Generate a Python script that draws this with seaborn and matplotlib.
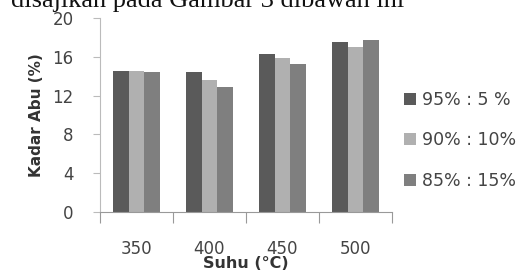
import pandas as pd
import seaborn as sns
import matplotlib.pyplot as plt

suhu = ['350', '400', '450', '500']
ratios = ['95% : 5 %', '90% : 10%', '85% : 15%']
kadar_95 = [14.5, 14.4, 16.3, 17.5]
kadar_90 = [14.5, 13.6, 15.9, 17.0]
kadar_85 = [14.4, 12.9, 15.3, 17.7]
colors = ['#5a5a5a', '#b0b0b0', '#7f7f7f']

df = pd.DataFrame({
    'suhu': suhu * 3,
    'rasio': [r for r in ratios for _ in suhu],
    'kadar': kadar_95 + kadar_90 + kadar_85,
})

sns.set_style('white')
plt.rcParams['font.family'] = ['DejaVu Sans']

fig = plt.figure(figsize=(5.29, 2.79), dpi=100)
ax = fig.add_axes([0.189, 0.240, 0.552, 0.695])
sns.barplot(data=df, x='suhu', y='kadar', hue='rasio', palette=colors,
            width=0.64, saturation=1, ax=ax, linewidth=0)

ax.set_ylim(0, 20)
ax.set_yticks([0, 4, 8, 12, 16, 20])
ax.set_xlim(-0.5, 3.5)
ax.tick_params(axis='y', labelsize=12, labelcolor='#444444', color='#bbbbbb',
               length=5, width=0.8, direction='out', left=True, pad=14)
ax.tick_params(axis='x', which='major', length=0, labelsize=12, labelcolor='#444444', pad=20)
ax.set_xticks([-0.5, 0.5, 1.5, 2.5, 3.5], minor=True)
ax.tick_params(axis='x', which='minor', length=8, width=0.8, color='#999999',
               direction='out', bottom=True)
ax.spines['top'].set_visible(False)
ax.spines['right'].set_visible(False)
ax.spines['left'].set_color('#bbbbbb')
ax.spines['bottom'].set_color('#999999')

ax.set_xlabel('Suhu (°C)', fontsize=11.5, fontweight='bold', color='#333333', labelpad=-1)
ax.set_ylabel('Kadar Abu (%)', fontsize=11, fontweight='bold', color='#333333', labelpad=6)

leg = ax.legend(loc='center left', bbox_to_anchor=(1.0, 0.37), frameon=False,
                fontsize=12.5, handlelength=0.7, handleheight=0.7, handletextpad=0.3,
                labelspacing=1.3, labelcolor='#444444', borderaxespad=0.3)

fig.text(0.02, 0.975, 'disajikan pada Gambar 3 dibawah ini', fontsize=19,
         family='Liberation Serif', va='baseline', ha='left', color='#111111')

fig.savefig('out.png', dpi=100)
